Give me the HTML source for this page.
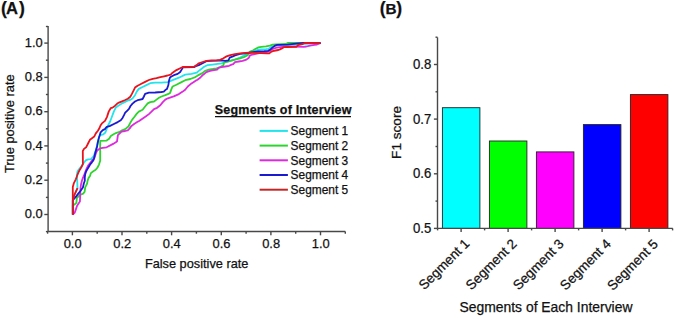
<!DOCTYPE html><html><head><meta charset="utf-8"><style>html,body{margin:0;padding:0;background:#fff;width:675px;height:317px;overflow:hidden}svg{display:block}text{font-family:"Liberation Sans",sans-serif;fill:#111;stroke:#111;stroke-width:0.25px}</style></head><body>
<svg width="675" height="317" viewBox="0 0 675 317">
<text y="14.1" font-weight="bold"><tspan x="1.0" font-size="17.6">(</tspan><tspan x="6.1" y="13.55" font-size="16.6">A</tspan><tspan x="19.0" y="14.1" font-size="17.6">)</tspan></text>
<text y="14.1" font-weight="bold"><tspan x="379.8" font-size="17.6">(</tspan><tspan x="385.5" y="13.55" font-size="15.3">B</tspan><tspan x="396.3" y="14.1" font-size="17.6">)</tspan></text>
<g stroke="#484848" stroke-width="1.4" fill="none"><line x1="48.1" y1="25.9" x2="48.1" y2="231.5"/><line x1="48.1" y1="231.5" x2="345.3" y2="231.5"/><line x1="45.9" y1="231.6" x2="48.1" y2="231.6"/><line x1="44.3" y1="214.5" x2="48.1" y2="214.5"/><line x1="45.9" y1="197.4" x2="48.1" y2="197.4"/><line x1="44.3" y1="180.2" x2="48.1" y2="180.2"/><line x1="45.9" y1="163.1" x2="48.1" y2="163.1"/><line x1="44.3" y1="145.9" x2="48.1" y2="145.9"/><line x1="45.9" y1="128.8" x2="48.1" y2="128.8"/><line x1="44.3" y1="111.7" x2="48.1" y2="111.7"/><line x1="45.9" y1="94.5" x2="48.1" y2="94.5"/><line x1="44.3" y1="77.4" x2="48.1" y2="77.4"/><line x1="45.9" y1="60.2" x2="48.1" y2="60.2"/><line x1="44.3" y1="43.1" x2="48.1" y2="43.1"/><line x1="45.9" y1="26.5" x2="48.1" y2="26.5"/><line x1="47.6" y1="231.5" x2="47.6" y2="233.7"/><line x1="72.4" y1="231.5" x2="72.4" y2="235.3"/><line x1="97.2" y1="231.5" x2="97.2" y2="233.7"/><line x1="122.0" y1="231.5" x2="122.0" y2="235.3"/><line x1="146.8" y1="231.5" x2="146.8" y2="233.7"/><line x1="171.6" y1="231.5" x2="171.6" y2="235.3"/><line x1="196.4" y1="231.5" x2="196.4" y2="233.7"/><line x1="221.3" y1="231.5" x2="221.3" y2="235.3"/><line x1="246.1" y1="231.5" x2="246.1" y2="233.7"/><line x1="270.9" y1="231.5" x2="270.9" y2="235.3"/><line x1="295.7" y1="231.5" x2="295.7" y2="233.7"/><line x1="320.5" y1="231.5" x2="320.5" y2="235.3"/><line x1="345.3" y1="231.5" x2="345.3" y2="233.7"/></g>
<text x="42.7" y="218.1" font-size="12.9" text-anchor="end">0.0</text>
<text x="42.7" y="183.8" font-size="12.9" text-anchor="end">0.2</text>
<text x="42.7" y="149.5" font-size="12.9" text-anchor="end">0.4</text>
<text x="42.7" y="115.3" font-size="12.9" text-anchor="end">0.6</text>
<text x="42.7" y="81.0" font-size="12.9" text-anchor="end">0.8</text>
<text x="42.7" y="46.7" font-size="12.9" text-anchor="end">1.0</text>
<text x="72.6" y="247.5" font-size="12.9" text-anchor="middle">0.0</text>
<text x="122.2" y="247.5" font-size="12.9" text-anchor="middle">0.2</text>
<text x="171.8" y="247.5" font-size="12.9" text-anchor="middle">0.4</text>
<text x="221.5" y="247.5" font-size="12.9" text-anchor="middle">0.6</text>
<text x="271.1" y="247.5" font-size="12.9" text-anchor="middle">0.8</text>
<text x="320.7" y="247.5" font-size="12.9" text-anchor="middle">1.0</text>
<text transform="translate(14.3,173.1) rotate(-90)" font-size="12.85">True positive rate</text>
<text x="144.9" y="267.7" font-size="12.75">False positive rate</text>
<polyline points="72.8,214.5 72.8,200.0 74.3,195.1 77.5,188.2 77.2,180.0 76.9,175.0 77.5,171.5 78.6,169.8 81.5,166.0 84.3,162.3 85.7,160.4 88.1,159.4 91.0,159.1 93.8,156.0 95.5,151.0 97.0,146.0 98.0,141.0 99.0,137.0 100.5,135.0 103.3,134.4 105.4,132.5 107.6,126.5 110.1,121.5 112.0,116.5 113.9,111.4 115.8,107.6 118.3,105.7 121.5,103.8 125.2,101.9 128.4,100.3 130.0,100.0 132.5,98.5 135.0,95.2 136.9,91.4 138.8,88.9 142.6,87.0 146.4,85.1 150.2,83.2 155.2,82.6 161.5,82.6 167.6,82.1 172.6,80.2 178.9,77.7 185.2,74.6 191.5,73.9 196.6,72.7 198.8,70.9 201.3,69.0 204.5,66.5 207.6,65.2 212.7,64.6 217.7,63.9 221.5,63.3 225.3,62.0 229.1,61.2 232.9,60.1 235.0,59.5 240.0,57.5 248.0,53.5 252.0,51.5 257.4,50.0 261.4,49.4 265.9,49.1 268.8,48.8 271.6,46.8 275.0,45.5 280.0,45.0 290.0,44.5 305.0,43.8 320.6,43.1" fill="none" stroke="#22e4ec" stroke-width="1.8" stroke-linejoin="round"/>
<polyline points="72.8,214.5 72.8,205.5 74.5,204.5 76.4,202.9 76.8,198.1 77.5,197.3 80.0,195.0 83.1,193.6 84.6,191.8 85.2,187.3 86.2,185.4 87.1,183.5 87.6,180.7 88.6,177.9 90.0,176.0 90.9,173.1 93.3,171.2 95.7,169.8 97.5,167.5 99.0,164.6 100.2,160.8 100.2,140.9 106.6,140.6 109.1,138.8 110.8,136.0 114.0,134.0 116.4,132.9 118.9,132.2 122.1,130.3 125.2,129.1 128.4,126.5 130.3,122.8 132.2,119.6 134.7,116.5 136.6,113.9 138.8,111.6 142.6,109.7 145.1,106.5 147.7,103.4 150.2,102.1 154.0,101.5 156.5,99.6 159.0,97.7 161.5,96.5 165.3,95.2 169.1,93.6 170.1,92.9 171.4,89.1 172.6,86.5 176.4,84.7 181.5,82.1 185.2,80.2 190.3,79.0 195.3,77.1 197.9,75.4 201.9,73.4 205.1,70.9 208.9,69.6 212.7,69.0 216.5,68.3 220.2,67.1 223.4,65.2 224.0,62.7 226.5,62.0 230.3,60.8 235.0,59.6 240.1,58.3 243.9,57.1 247.7,55.2 250.0,51.7 252.8,50.5 255.7,48.8 258.5,47.4 261.4,46.8 265.9,46.3 269.9,45.7 272.7,44.6 275.6,44.3 285.7,44.0 288.1,42.8 295.2,42.8 303.0,42.9 320.6,43.1" fill="none" stroke="#2ed42e" stroke-width="1.8" stroke-linejoin="round"/>
<polyline points="72.8,214.5 74.7,212.7 75.7,209.9 77.1,205.7 79.9,201.6 80.2,196.0 80.3,191.8 80.6,187.5 81.0,184.5 81.9,180.7 82.9,177.9 83.8,176.0 85.2,172.2 86.7,168.4 88.1,165.6 89.5,163.7 92.0,160.5 94.2,158.5 95.8,153.7 96.9,151.0 98.5,149.4 100.1,148.4 102.8,147.8 106.6,147.3 113.1,143.9 117.0,141.5 117.9,135.2 121.5,131.6 125.2,131.0 127.8,130.3 129.7,128.4 131.5,125.9 134.1,124.0 137.2,122.1 139.1,120.9 141.3,119.4 146.0,116.3 148.9,114.1 151.5,111.6 154.0,109.1 157.1,107.8 160.3,105.3 162.8,102.1 165.3,99.6 167.9,98.3 170.0,97.7 173.7,96.3 178.9,94.1 182.7,91.6 185.2,89.7 187.8,86.5 191.5,83.4 195.3,80.9 197.5,79.7 200.7,77.2 203.2,74.7 206.4,72.1 210.1,70.9 213.9,70.2 217.1,69.6 219.0,67.7 221.5,67.1 225.3,66.5 229.1,65.8 231.6,64.6 233.2,64.2 235.0,62.1 238.8,61.5 242.6,60.9 246.4,59.6 248.9,57.7 250.0,55.4 252.8,54.5 255.7,53.9 259.1,53.1 264.2,52.5 268.2,51.7 271.0,50.0 273.9,48.5 276.7,47.7 280.0,47.2 285.0,46.6 295.0,46.5 303.7,46.8 306.5,46.5 310.0,45.6 314.5,44.8 317.0,44.5 319.5,43.5 320.6,43.1" fill="none" stroke="#dc2adc" stroke-width="1.8" stroke-linejoin="round"/>
<polyline points="72.8,214.5 72.8,200.0 73.5,199.5 76.2,196.4 78.1,193.9 80.6,190.7 82.9,187.5 83.8,183.5 84.8,180.7 84.8,177.4 85.2,174.1 86.2,171.2 87.6,168.9 89.0,166.5 90.4,164.1 91.9,162.3 93.3,160.4 94.0,158.5 95.3,152.7 96.9,147.3 97.9,141.9 99.0,137.6 100.1,133.9 100.6,132.3 102.8,130.1 104.9,129.1 106.3,127.2 110.1,125.9 113.9,124.0 117.7,122.1 120.8,120.2 122.7,117.7 124.0,115.2 125.2,112.7 127.1,110.8 129.0,108.9 130.5,106.0 132.5,103.6 135.0,101.5 137.6,100.2 140.1,99.6 142.6,99.0 143.9,96.5 145.1,93.9 148.9,92.7 155.2,92.5 161.5,92.0 163.8,91.6 165.3,90.1 166.9,89.1 168.3,85.3 169.1,80.2 170.0,77.5 171.4,76.5 173.9,75.2 177.7,73.9 180.2,72.0 182.1,68.9 182.9,67.3 194.0,67.1 196.6,65.8 198.8,65.2 202.6,63.3 206.4,61.2 210.0,60.8 216.5,60.6 222.1,60.3 225.3,60.8 228.4,60.3 229.7,57.6 232.9,56.4 235.0,55.4 240.1,53.9 248.0,53.0 254.5,51.9 258.5,51.4 264.2,51.1 268.2,50.8 270.5,49.4 272.7,47.4 275.0,45.7 277.3,44.8 287.6,44.6 296.1,43.7 303.7,42.9 320.6,43.1" fill="none" stroke="#1a1ad0" stroke-width="1.8" stroke-linejoin="round"/>
<polyline points="72.8,214.8 72.8,187.0 73.9,183.1 75.8,179.3 77.2,175.5 78.6,172.2 80.0,169.4 81.5,167.0 82.9,164.1 82.8,151.0 84.0,148.9 86.1,147.3 88.3,143.0 89.9,139.8 92.0,138.2 94.2,136.6 95.8,133.4 97.9,130.7 99.5,128.0 100.5,125.5 101.9,123.4 105.0,120.9 106.9,117.1 108.8,111.4 110.7,108.2 112.6,107.6 115.1,105.7 117.0,103.8 118.9,102.6 122.1,101.3 125.2,100.0 127.8,98.8 130.3,96.7 131.9,93.9 133.8,90.1 135.0,87.6 137.6,85.7 141.4,83.8 145.1,81.9 148.9,80.0 152.7,78.8 156.5,78.2 160.3,77.2 164.1,76.3 167.5,75.5 170.7,74.6 172.6,72.7 176.4,70.1 180.2,68.2 182.7,67.0 194.1,66.8 196.6,65.1 198.8,63.3 202.6,62.0 206.4,60.8 211.4,60.4 216.5,60.4 220.2,59.9 223.4,58.2 226.5,56.4 230.3,55.1 235.0,54.2 240.1,53.3 248.9,52.7 255.7,52.8 261.4,53.1 267.0,53.4 269.3,53.4 271.0,51.9 272.7,51.1 275.6,50.5 278.4,50.0 280.0,49.4 281.9,48.4 283.8,47.2 287.1,47.0 296.6,46.8 298.0,45.1 299.9,44.6 302.3,44.2 304.6,43.0 320.6,43.1" fill="none" stroke="#e8141c" stroke-width="1.8" stroke-linejoin="round"/>
<polyline points="73.0,200.0 74.3,195.1 77.5,188.2" fill="none" stroke="#e8141c" stroke-width="1.8" stroke-linejoin="round"/>
<text x="214.8" y="114" font-size="12.5" font-weight="bold" letter-spacing="0.2">Segments of Interview</text>
<line x1="215" y1="116.6" x2="351" y2="116.6" stroke="#111" stroke-width="1.2"/>
<line x1="259.6" y1="130.9" x2="287.9" y2="130.9" stroke="#22e4ec" stroke-width="2"/>
<text x="290.6" y="135.3" font-size="11.9">Segment 1</text>
<line x1="259.6" y1="145.6" x2="287.9" y2="145.6" stroke="#2ed42e" stroke-width="2"/>
<text x="290.6" y="150.0" font-size="11.9">Segment 2</text>
<line x1="259.6" y1="160.3" x2="287.9" y2="160.3" stroke="#dc2adc" stroke-width="2"/>
<text x="290.6" y="164.7" font-size="11.9">Segment 3</text>
<line x1="259.6" y1="175.0" x2="287.9" y2="175.0" stroke="#1a1ad0" stroke-width="2"/>
<text x="290.6" y="179.4" font-size="11.9">Segment 4</text>
<line x1="259.6" y1="189.7" x2="287.9" y2="189.7" stroke="#c42626" stroke-width="2"/>
<text x="290.6" y="194.1" font-size="11.9">Segment 5</text>
<rect x="442.4" y="107.7" width="37.5" height="120.7" fill="#00ffff" stroke="#222" stroke-width="0.9"/>
<rect x="489.4" y="141.0" width="37.5" height="87.4" fill="#00ff00" stroke="#222" stroke-width="0.9"/>
<rect x="536.4" y="151.9" width="37.5" height="76.5" fill="#ff00ff" stroke="#222" stroke-width="0.9"/>
<rect x="583.4" y="124.6" width="37.5" height="103.8" fill="#0000ff" stroke="#222" stroke-width="0.9"/>
<rect x="630.4" y="94.6" width="37.5" height="133.8" fill="#ff0000" stroke="#222" stroke-width="0.9"/>
<g stroke="#484848" stroke-width="1.4" fill="none"><line x1="437.5" y1="37.4" x2="437.5" y2="228.4"/><line x1="437.5" y1="228.4" x2="672.8" y2="228.4"/><line x1="433.9" y1="228.4" x2="437.5" y2="228.4"/><line x1="435.5" y1="201.1" x2="437.5" y2="201.1"/><line x1="433.9" y1="173.8" x2="437.5" y2="173.8"/><line x1="435.5" y1="146.5" x2="437.5" y2="146.5"/><line x1="433.9" y1="119.1" x2="437.5" y2="119.1"/><line x1="435.5" y1="91.8" x2="437.5" y2="91.8"/><line x1="433.9" y1="64.5" x2="437.5" y2="64.5"/><line x1="435.5" y1="37.2" x2="437.5" y2="37.2"/><line x1="437.6" y1="228.4" x2="437.6" y2="230.4"/><line x1="461.1" y1="228.4" x2="461.1" y2="232.0"/><line x1="484.6" y1="228.4" x2="484.6" y2="230.4"/><line x1="508.1" y1="228.4" x2="508.1" y2="232.0"/><line x1="531.6" y1="228.4" x2="531.6" y2="230.4"/><line x1="555.1" y1="228.4" x2="555.1" y2="232.0"/><line x1="578.6" y1="228.4" x2="578.6" y2="230.4"/><line x1="602.1" y1="228.4" x2="602.1" y2="232.0"/><line x1="625.6" y1="228.4" x2="625.6" y2="230.4"/><line x1="649.1" y1="228.4" x2="649.1" y2="232.0"/><line x1="672.6" y1="228.4" x2="672.6" y2="230.4"/></g>
<text transform="translate(431.3,233.0) scale(0.94,1)" font-size="14" text-anchor="end">0.5</text>
<text transform="translate(431.3,178.4) scale(0.94,1)" font-size="14" text-anchor="end">0.6</text>
<text transform="translate(431.3,123.7) scale(0.94,1)" font-size="14" text-anchor="end">0.7</text>
<text transform="translate(431.3,69.1) scale(0.94,1)" font-size="14" text-anchor="end">0.8</text>
<text transform="translate(400.9,158.9) rotate(-90)" font-size="13.6">F1 score</text>
<text transform="translate(470.4,244.4) rotate(-45)" font-size="13.5" text-anchor="end">Segment 1</text>
<text transform="translate(517.5,244.6) rotate(-45)" font-size="13.5" text-anchor="end">Segment 2</text>
<text transform="translate(564.6,244.7) rotate(-45)" font-size="13.5" text-anchor="end">Segment 3</text>
<text transform="translate(611.7,244.8) rotate(-45)" font-size="13.5" text-anchor="end">Segment 4</text>
<text transform="translate(658.8,245.0) rotate(-45)" font-size="13.5" text-anchor="end">Segment 5</text>
<text x="459.5" y="311.7" font-size="13.9">Segments of Each Interview</text>
</svg></body></html>
